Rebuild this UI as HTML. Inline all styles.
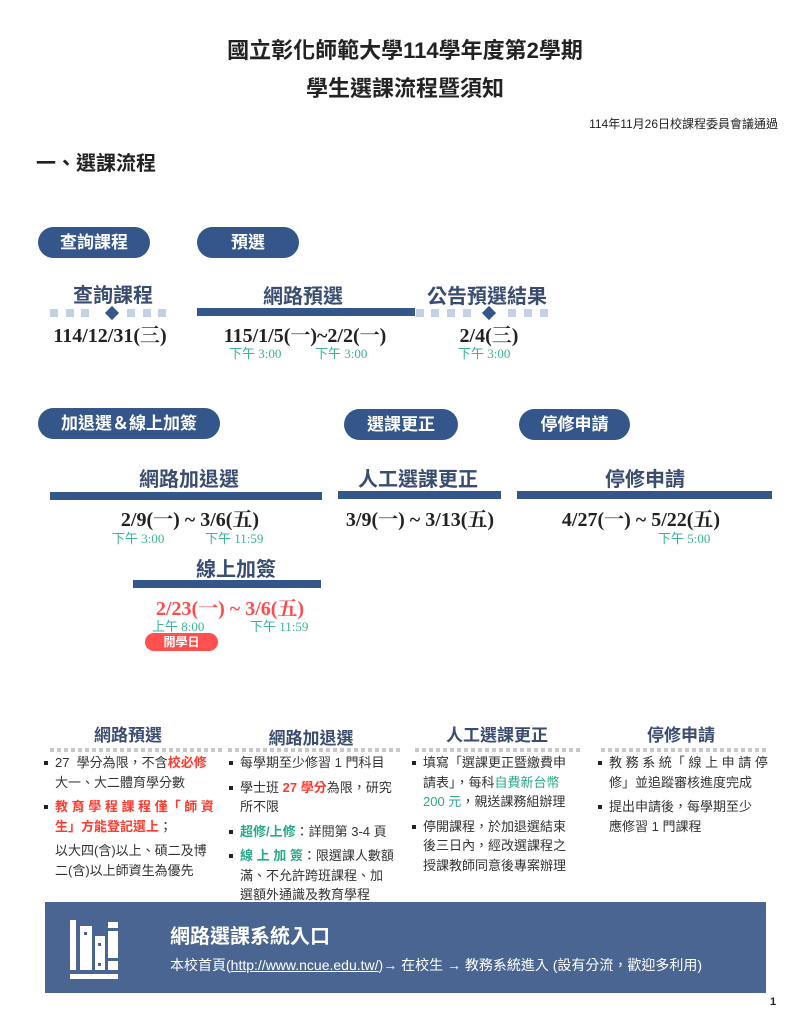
<!DOCTYPE html>
<html><head><meta charset="utf-8"><style>
*{margin:0;padding:0;box-sizing:border-box}
body{width:811px;height:1016px;background:#fff;position:relative;overflow:hidden;font-family:"Liberation Sans","Noto Sans CJK TC",sans-serif;color:#222}
.a{position:absolute;white-space:nowrap}
.c{transform:translateX(-50%)}
.pill{position:absolute;background:#34568a;color:#fff;border-radius:16px;font-weight:bold;font-size:17px;text-align:center;height:31px;line-height:31px}
.h{position:absolute;transform:translateX(-50%);font-size:20px;font-weight:bold;color:#3a4d70;white-space:nowrap}
.bar{position:absolute;height:8px;background:#34568a}
.d{position:absolute;transform:translateX(-50%);font-family:"Liberation Serif","Noto Serif CJK SC",serif;font-weight:bold;font-size:20px;color:#222;white-space:nowrap}
.t{position:absolute;font-family:"Liberation Serif","Noto Sans CJK TC",serif;font-size:13px;color:#3bb39b;white-space:nowrap}
.sq{position:absolute;width:8px;height:8px;background:#c5d0e6}
.dm{position:absolute;width:10px;height:10px;background:#34568a;transform:rotate(45deg)}
.ch{position:absolute;transform:translateX(-50%);font-size:17px;font-weight:bold;color:#3a4d70;white-space:nowrap}
.dot{position:absolute;height:4px;background-image:linear-gradient(90deg,#c8c8c8 4px,transparent 4px);background-size:7px 4px}
.col{position:absolute;font-size:13px;line-height:19.5px;color:#333}
.col li{list-style:none;position:relative;padding-left:11px;margin-bottom:5px;white-space:nowrap}
.col li:before{content:"";position:absolute;left:0;top:8px;width:4px;height:4px;background:#222}
.col li.nb:before{display:none}
.r{color:#ff3b30;font-weight:bold}.g{color:#2aa98a;font-weight:bold}
</style></head><body>
<div class="a c" style="left:405px;top:33px;font-size:22px;font-weight:bold">國立彰化師範大學114學年度第2學期</div>
<div class="a c" style="left:405px;top:71px;font-size:22px;font-weight:bold">學生選課流程暨須知</div>
<div class="a" style="right:33px;top:115px;font-size:12px">114年11月26日校課程委員會議通過</div>
<div class="a" style="left:36px;top:147px;font-size:20px;font-weight:bold">一、選課流程</div>

<div class="pill" style="left:38px;top:227px;width:112px">查詢課程</div>
<div class="pill" style="left:197px;top:227px;width:102px">預選</div>

<div class="h" style="left:113px;top:279px">查詢課程</div>
<div class="sq" style="left:50px;top:309px"></div><div class="sq" style="left:66px;top:309px"></div><div class="sq" style="left:81px;top:309px"></div>
<div class="dm" style="left:107px;top:308px"></div>
<div class="sq" style="left:127px;top:309px"></div><div class="sq" style="left:143px;top:309px"></div><div class="sq" style="left:158px;top:309px"></div>
<div class="d" style="left:110px;top:319px">114/12/31(三)</div>

<div class="h" style="left:303px;top:280px">網路預選</div>
<div class="bar" style="left:197px;top:308px;width:218px"></div>
<div class="d" style="left:305px;top:319px">115/1/5(一)~2/2(一)</div>
<div class="t" style="left:229px;top:343px">下午 3:00</div>
<div class="t" style="left:315px;top:343px">下午 3:00</div>

<div class="h" style="left:487px;top:280px">公告預選結果</div>
<div class="sq" style="left:416px;top:309px"></div><div class="sq" style="left:431px;top:309px"></div><div class="sq" style="left:447px;top:309px"></div><div class="sq" style="left:463px;top:309px"></div>
<div class="dm" style="left:484px;top:308px"></div>
<div class="sq" style="left:508px;top:309px"></div><div class="sq" style="left:524px;top:309px"></div><div class="sq" style="left:540px;top:309px"></div>
<div class="d" style="left:489px;top:319px">2/4(三)</div>
<div class="t" style="left:458px;top:343px">下午 3:00</div>

<div class="pill" style="left:38px;top:408px;width:182px">加退選＆線上加簽</div>
<div class="pill" style="left:344px;top:409px;width:114px">選課更正</div>
<div class="pill" style="left:519px;top:409px;width:111px">停修申請</div>

<div class="h" style="left:189px;top:463px">網路加退選</div>
<div class="bar" style="left:50px;top:492px;width:272px"></div>
<div class="d" style="left:190px;top:503px">2/9(一) ~ 3/6(五)</div>
<div class="t" style="left:112px;top:528px">下午 3:00</div>
<div class="t" style="left:205px;top:528px">下午 11:59</div>

<div class="h" style="left:236px;top:553px">線上加簽</div>
<div class="bar" style="left:133px;top:580px;width:188px"></div>
<div class="d" style="left:230px;top:592px;color:#ff4b4b">2/23(一) ~ 3/6(五)</div>
<div class="t" style="left:152px;top:616px">上午 8:00</div>
<div class="t" style="left:250px;top:616px">下午 11:59</div>
<div class="a" style="left:145px;top:633px;width:73px;height:18px;border-radius:9px;background:#ff5050;color:#fff;font-size:12px;font-weight:bold;text-align:center;line-height:18px">開學日</div>

<div class="h" style="left:418px;top:463px">人工選課更正</div>
<div class="bar" style="left:338px;top:491px;width:163px"></div>
<div class="d" style="left:420px;top:503px">3/9(一) ~ 3/13(五)</div>

<div class="h" style="left:645px;top:463px">停修申請</div>
<div class="bar" style="left:517px;top:491px;width:255px"></div>
<div class="d" style="left:641px;top:503px">4/27(一) ~ 5/22(五)</div>
<div class="t" style="left:658px;top:528px">下午 5:00</div>

<div class="ch" style="left:128px;top:721px">網路預選</div>
<div class="ch" style="left:311px;top:724px">網路加退選</div>
<div class="ch" style="left:497px;top:721px">人工選課更正</div>
<div class="ch" style="left:681px;top:721px">停修申請</div>
<div class="dot" style="left:50px;top:748px;width:175px"></div>
<div class="dot" style="left:228px;top:748px;width:172px"></div>
<div class="dot" style="left:415px;top:748px;width:165px"></div>
<div class="dot" style="left:601px;top:748px;width:165px"></div>

<ul class="col" style="left:44px;top:753px">
<li>27&nbsp; 學分為限，不含<span class="r">校必修</span><br>大一、大二體育學分數</li>
<li><span class="r">教 育 學 程 課 程 僅「 師 資<br>生」方能登記選上</span>；</li>
<li class="nb">以大四(含)以上、碩二及博<br>二(含)以上師資生為優先</li>
</ul>
<ul class="col" style="left:229px;top:753px">
<li>每學期至少修習 1 門科目</li>
<li>學士班 <span class="r">27 學分</span>為限，研究<br>所不限</li>
<li><span class="g">超修/上修</span>：詳閱第 3-4 頁</li>
<li><span class="g">線 上 加 簽</span>：限選課人數額<br>滿、不允許跨班課程、加<br>選額外通識及教育學程</li>
</ul>
<ul class="col" style="left:412px;top:753px">
<li>填寫「選課更正暨繳費申<br>請表」，每科<span class="g" style="font-weight:normal">自費新台幣<br>200 元</span>，親送課務組辦理</li>
<li>停開課程，於加退選結束<br>後三日內，經改選課程之<br>授課教師同意後專案辦理</li>
</ul>
<ul class="col" style="left:598px;top:753px">
<li>教 務 系 統「 線 上 申 請 停<br>修」並追蹤審核進度完成</li>
<li>提出申請後，每學期至少<br>應修習 1 門課程</li>
</ul>

<div class="a" style="left:45px;top:902px;width:721px;height:91px;background:#4a6591"></div>
<svg class="a" style="left:70px;top:918px" width="48" height="64" viewBox="0 0 48 64">
<rect x="0" y="2" width="6" height="50" fill="#fff"/>
<rect x="10" y="8" width="12" height="44" fill="#fff"/><rect x="14" y="14" width="3" height="3" fill="#4a6591"/>
<rect x="25" y="18" width="10" height="34" fill="#fff"/><rect x="28" y="25" width="3" height="3" fill="#4a6591"/><rect x="28" y="45" width="3" height="3" fill="#4a6591"/>
<rect x="38" y="4" width="10" height="6" fill="#fff"/><rect x="38" y="13" width="10" height="27" fill="#fff"/><rect x="38" y="43" width="10" height="9" fill="#fff"/>
<rect x="0" y="56" width="48" height="5" fill="#fff"/>
</svg>
<div class="a" style="left:170px;top:920px;font-size:20px;font-weight:bold;color:#fff">網路選課系統入口</div>
<div class="a" style="left:170px;top:955px;font-size:14px;color:#fff">本校首頁(<span style="text-decoration:underline">http://www.ncue.edu.tw/</span>)→ 在校生 → 教務系統進入 (設有分流，歡迎多利用)</div>
<div class="a" style="left:770px;top:996px;font-size:11px;font-weight:bold">1</div>
</body></html>
